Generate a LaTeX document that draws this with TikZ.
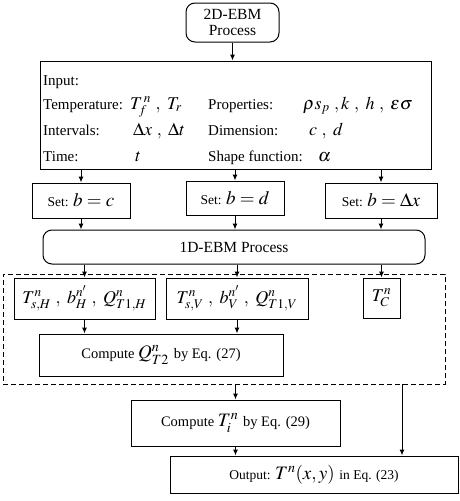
\documentclass[tikz,border=0pt]{standalone}
\usepackage{mathptmx}
\usepackage{fontspec}
\setmainfont{Liberation Serif}
\usetikzlibrary{arrows.meta}

\begin{document}
\begin{tikzpicture}[x=1pt,y=-1pt,
    box/.style={draw, line width=1pt, inner sep=0pt, align=center},
    rbox/.style={box, rounded corners=9pt},
    arr/.style={-{Latex[length=6pt,width=5pt]}, line width=1pt},
    lbl/.style={anchor=base west, inner sep=0pt, font=\fontsize{15}{18}\selectfont},
    val/.style={anchor=base west, inner sep=0pt, font=\fontsize{18}{20}\selectfont}]
    \useasboundingbox (0,0) rectangle (459,501);
    % Boxes
    \node[rbox, minimum width=93pt, minimum height=39pt, font=\fontsize{15.5}{16}\selectfont] (start) at (232.5,22.5) {2D-EBM\\Process};
    \node[box, minimum width=391pt, minimum height=108pt] (input) at (235.5,115) {};
    \node[box, minimum width=98pt, minimum height=35pt] (setc) at (81,200.5) {\fontsize{13.5}{14}\selectfont Set: \fontsize{19}{20}\selectfont $b=c$};
    \node[box, minimum width=98pt, minimum height=34pt] (setd) at (235,198) {\fontsize{13.5}{14}\selectfont Set: \fontsize{19}{20}\selectfont $b=d$};
    \node[box, minimum width=112pt, minimum height=35pt] (setx) at (381,200.5) {\fontsize{13.5}{14}\selectfont Set: \fontsize{19}{20}\selectfont $b=\Delta x$};
    \node[rbox, minimum width=382pt, minimum height=34pt, font=\fontsize{15.5}{16}\selectfont] (oned) at (234,247) {1D-EBM Process};
    \node[draw, dash pattern=on 5pt off 3pt, line width=1pt, minimum width=442pt, minimum height=110pt] (grp) at (224,329) {};
    \node[box, minimum width=141pt, minimum height=41pt, font=\fontsize{18}{20}\selectfont] (tsh) at (84.5,298.5) {$T^n_{s,H}\ ,\ b^{n'}_H\ ,\ Q^n_{T1,H}$};
    \node[box, minimum width=142pt, minimum height=41pt, font=\fontsize{18}{20}\selectfont] (tsv) at (237,298.5) {$T^n_{s,V}\ ,\ b^{n'}_V\ ,\ Q^n_{T1,V}$};
    \node[box, minimum width=37pt, minimum height=40pt, font=\fontsize{18}{20}\selectfont] (tc) at (381.5,298) {$T^n_C$};
    \node[box, minimum width=244pt, minimum height=42pt] (qt) at (161,355) {\fontsize{14.5}{16}\selectfont Compute \fontsize{19}{20}\selectfont $Q^n_{T2}$ \fontsize{14.5}{16}\selectfont by Eq. (27)};
    \node[box, minimum width=209pt, minimum height=46pt] (ti) at (235.5,423) {\fontsize{14.5}{16}\selectfont Compute \fontsize{19}{20}\selectfont $T^n_i$ \fontsize{14.5}{16}\selectfont by Eq. (29)};
    \node[box, minimum width=288pt, minimum height=37pt] (out) at (314,474.5) {\fontsize{13.5}{16}\selectfont Output: \fontsize{19}{20}\selectfont $T^n(x,y)$ \fontsize{13.5}{16}\selectfont in Eq. (23)};
    % Input contents
    \node[lbl] (in0) at (43,85) {Input:};
    \node[lbl] (in1) at (43,109) {Temperature:};
    \node[lbl] (in2) at (43,135) {Intervals:};
    \node[lbl] (in3) at (43,161) {Time:};
    \node[val] (v1) at (130,109) {$T_f^{\,n}\ ,\ T_r$};
    \node[val] (v2) at (133,135) {$\Delta x\ ,\ \Delta t$};
    \node[val] (v3) at (135,161) {$t$};
    \node[lbl] (p1) at (208,109) {Properties:};
    \node[lbl] (p2) at (208,135) {Dimension:};
    \node[lbl] (p3) at (208,161) {Shape function:};
    \node[val] (w1) at (303,109) {$\rho s_p\ , k\ ,\ h\ ,\ \varepsilon\sigma$};
    \node[val] (w2) at (309,135) {$c\ ,\ d$};
    \node[val] (w3) at (318,161) {$\alpha$};
    % Arrows
    \draw[arr] (start) -- (start.south |- input.north);
    \draw[arr] (setc.north |- input.south) -- (setc);
    \draw[arr] (setd.north |- input.south) -- (setd);
    \draw[arr] (setx.north |- input.south) -- (setx);
    \draw[arr] (setc) -- (setc.south |- oned.north);
    \draw[arr] (setd) -- (setd.south |- oned.north);
    \draw[arr] (setx) -- (setx.south |- oned.north);
    \draw[arr] (tsh.north |- oned.south) -- (tsh);
    \draw[arr] (tsv.north |- oned.south) -- (tsv);
    \draw[arr] (tc.north |- oned.south) -- (tc);
    \draw[arr] (tsh) -- (tsh.south |- qt.north);
    \draw[arr] (tsv) -- (tsv.south |- qt.north);
    \draw[arr] (ti.north |- grp.south) -- (ti);
    \draw[arr] (ti) -- (ti.south |- out.north);
    \coordinate (tap) at (402,384);
    \draw[arr] (tap) -- (tap |- out.north);
\end{tikzpicture}
\end{document}
